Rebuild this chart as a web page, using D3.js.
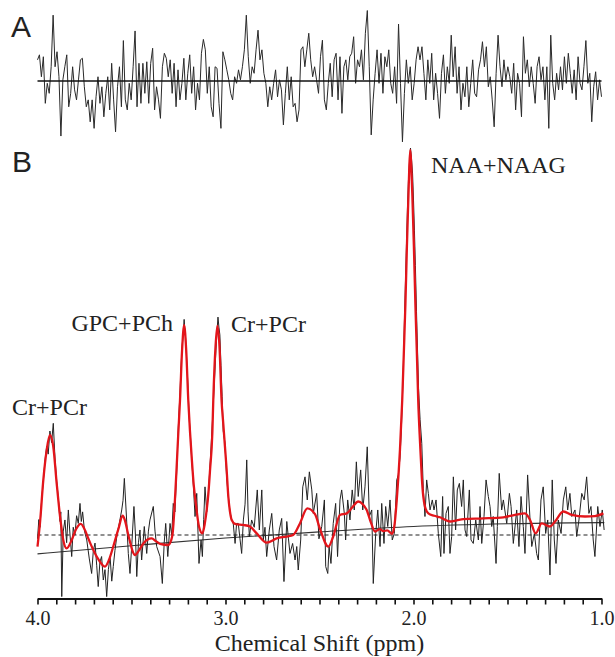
<!DOCTYPE html>
<html>
<head>
<meta charset="utf-8">
<script src="https://cdn.jsdelivr.net/npm/d3@7"></script>
<style>
  html, body { margin: 0; padding: 0; background: #fff; }
  svg { display: block; }
</style>
</head>
<body>
<div id="chart"></div>
<script>
// panel A: residual, sampled evenly from 4.0 to 1.0 ppm (a.u.)
const residual = [
  5.5, 6.8, 1.1, 6.3, -5.8, -0.6, -3.2, 3.7, 17.1, 3.7, 7.6, 1.1, -14.3, 0.3, 3.7, 6.8, -6.7, -3.2, 3.7, -2.3,
  -4.9, 0.3, 5.5, 5.9, -1.5, -6.7, -4.9, -10.6, -4.9, -12.3, -4.1, 1.1, -5.8, -1.5, -9.3, -3.2, 1.1, -7.5, 4.6, -4.9,
  -13.2, -1.5, 3.7, -6.7, 10.5, -4.9, -7.5, -0.6, -4.9, 3.7, 13.0, -6.7, 4.6, -5.8, 4.6, -3.2, 5.0, -5.8, 4.6, 8.5,
  -7.5, -1.5, -4.9, -9.7, 3.7, 7.2, 5.9, 1.1, 5.5, -3.2, 4.6, -6.7, 2.9, -4.9, -0.6, 5.9, -4.9, 2.0, 6.8, -3.2,
  3.7, -7.5, -0.6, -4.9, 7.2, 10.8, 8.1, -3.2, 3.7, -6.7, -9.3, 3.7, 3.3, -5.8, -12.3, 7.6, 5.5, 2.9, 0.3, -3.2,
  -4.9, 1.1, -0.6, 2.9, 0.3, 3.7, 8.1, 17.1, 6.3, -0.6, 3.7, 2.0, 8.1, 13.2, 5.5, 8.1, 2.0, -0.6, -6.7, -1.5,
  -4.9, -0.6, 2.9, -4.1, 0.3, -2.3, -11.4, -3.2, 3.7, -4.9, 1.1, -6.7, -5.8, -10.6, -7.5, 8.1, 8.9, 3.7, 8.1, 12.4,
  5.5, 1.1, 3.7, 0.3, -3.2, 6.3, 10.6, -4.9, -7.5, -0.6, 4.6, -4.1, 5.5, 7.2, -4.9, 6.3, -8.4, 3.7, 5.5, 0.3,
  6.3, 7.2, 11.5, -0.6, 5.5, 3.7, 8.1, 0.3, 12.4, 18.3, 3.7, -14.0, -4.9, 2.0, 8.1, -0.6, 7.2, -3.2, 6.3, 3.7,
  8.1, -0.6, -3.2, 3.7, -5.8, 14.8, -0.6, -15.8, -3.2, 5.5, -0.6, 3.7, -4.9, -0.6, 5.5, 8.9, 5.5, 8.9, 2.0, -4.9,
  5.5, -0.6, 7.2, -4.9, 2.0, -3.2, -9.7, 2.0, 6.8, -3.2, 3.7, -0.6, 11.9, 1.1, 8.9, -3.2, 3.7, -7.5, -0.6, -4.1,
  3.7, -6.7, -0.6, 5.5, -3.2, -4.1, 2.9, 5.5, 10.2, 3.7, 8.9, -1.5, 1.1, -4.9, -11.9, 2.0, 11.9, 3.7, -1.5, 5.5,
  0.3, 3.7, 1.1, -3.2, 4.6, -7.5, 2.0, -0.6, -9.3, 11.5, 2.0, 5.5, -1.5, 3.7, -0.6, -5.8, 3.7, 6.3, 0.3, 3.7,
  -4.9, 3.7, -12.3, 11.9, -0.6, -4.9, 2.0, -2.3, 3.7, -2.3, 6.3, -0.6, 7.2, 2.0, -3.2, 2.9, -4.9, 6.3, -0.6, -2.3,
  3.7, 10.5, -0.6, 2.0, -10.6, -1.5, 2.4, -4.9, 0.3, -4.1
];

// panel B: measured spectrum (black)
const specPpm = [
  4.000, 3.993, 3.987, 3.978, 3.969, 3.960, 3.951, 3.943, 3.934, 3.925, 3.916, 3.907, 3.898, 3.889, 3.880, 3.876, 3.871, 3.863, 3.854, 3.845,
  3.836, 3.827, 3.818, 3.810, 3.801, 3.792, 3.783, 3.774, 3.767, 3.760, 3.750, 3.738, 3.725, 3.712, 3.703, 3.694, 3.685, 3.677, 3.668, 3.659,
  3.650, 3.641, 3.632, 3.623, 3.614, 3.605, 3.597, 3.588, 3.576, 3.565, 3.552, 3.545, 3.538, 3.526, 3.517, 3.508, 3.499, 3.487, 3.479, 3.472,
  3.463, 3.455, 3.446, 3.432, 3.419, 3.410, 3.402, 3.384, 3.375, 3.366, 3.348, 3.336, 3.326, 3.318, 3.307, 3.295, 3.286, 3.278, 3.269, 3.260,
  3.251, 3.242, 3.236, 3.231, 3.225, 3.220, 3.216, 3.212, 3.205, 3.199, 3.194, 3.187, 3.180, 3.171, 3.162, 3.153, 3.141, 3.130, 3.123, 3.116,
  3.109, 3.100, 3.091, 3.080, 3.069, 3.059, 3.051, 3.045, 3.040, 3.035, 3.030, 3.024, 3.018, 3.012, 3.003, 2.994, 2.985, 2.976, 2.967, 2.959,
  2.949, 2.941, 2.932, 2.923, 2.914, 2.905, 2.896, 2.887, 2.880, 2.873, 2.861, 2.847, 2.831, 2.820, 2.807, 2.799, 2.790, 2.781, 2.767, 2.754,
  2.742, 2.728, 2.714, 2.701, 2.689, 2.674, 2.665, 2.657, 2.643, 2.630, 2.621, 2.613, 2.600, 2.589, 2.577, 2.565, 2.554, 2.541, 2.533, 2.515,
  2.503, 2.488, 2.474, 2.467, 2.456, 2.449, 2.439, 2.427, 2.414, 2.404, 2.391, 2.382, 2.368, 2.361, 2.350, 2.338, 2.326, 2.315, 2.304, 2.294,
  2.281, 2.270, 2.258, 2.246, 2.235, 2.222, 2.214, 2.201, 2.190, 2.178, 2.169, 2.157, 2.148, 2.137, 2.125, 2.113, 2.102, 2.089, 2.081, 2.072,
  2.065, 2.060, 2.054, 2.048, 2.042, 2.037, 2.032, 2.027, 2.021, 2.016, 2.011, 2.005, 2.000, 1.995, 1.990, 1.984, 1.978, 1.973, 1.965, 1.956,
  1.948, 1.939, 1.930, 1.921, 1.912, 1.900, 1.891, 1.880, 1.868, 1.855, 1.845, 1.838, 1.827, 1.815, 1.806, 1.797, 1.788, 1.776, 1.767, 1.756,
  1.744, 1.735, 1.726, 1.717, 1.703, 1.694, 1.682, 1.669, 1.655, 1.646, 1.637, 1.625, 1.614, 1.602, 1.593, 1.584, 1.576, 1.561, 1.554, 1.544,
  1.531, 1.522, 1.504, 1.490, 1.481, 1.469, 1.451, 1.439, 1.428, 1.416, 1.407, 1.393, 1.380, 1.371, 1.357, 1.345, 1.336, 1.322, 1.310, 1.297,
  1.286, 1.274, 1.262, 1.251, 1.242, 1.230, 1.215, 1.203, 1.190, 1.180, 1.168, 1.158, 1.141, 1.132, 1.120, 1.105, 1.092, 1.079, 1.067, 1.056,
  1.044, 1.035, 1.020, 1.008, 0.996, 0.986
];
const specVal = [
  -1.0, 4.0, 2.0, 9.0, 14.0, 19.5, 23.0, 21.0, 27.0, 24.0, 29.0, 20.0, 14.0, 9.5, 3.5, 6.0, -16.0, 1.0, 3.9, -2.0,
  6.5, 0.0, -5.6, 2.0, 0.0, 5.0, 3.0, 8.2, 3.5, 6.0, 1.0, -1.3, -6.0, -10.0, -4.0, -2.1, -8.0, -13.4, -7.0, -5.6,
  -11.7, -9.0, -16.0, -9.0, -5.6, -12.0, -8.2, -4.0, 0.4, 3.0, 6.5, 9.0, 14.7, 3.9, -4.8, -10.0, -3.0, 7.4, 0.0, -10.8,
  -2.0, 1.3, -6.5, 2.2, -4.8, 1.0, 3.9, 7.4, 1.0, -3.0, -5.6, -12.6, -2.0, 3.0, -5.6, 3.0, 0.0, 8.2, 6.0, 16.0,
  28.0, 37.0, 44.0, 49.0, 52.0, 56.0, 53.0, 51.0, 44.0, 38.0, 31.0, 26.0, 20.0, 13.0, 4.8, 10.8, -7.4, -1.3, -5.6, 4.0,
  12.5, 6.0, 11.0, 20.0, 30.0, 40.0, 48.0, 53.0, 56.6, 54.0, 52.0, 44.0, 36.0, 27.0, 24.0, 15.0, 10.0, 6.0, 4.0, 3.1,
  -2.2, 3.0, 3.0, -1.0, -4.8, 3.9, 8.0, 19.5, 6.0, -0.4, 3.9, 2.0, 11.7, 1.3, 11.7, -1.3, 2.0, -5.6, 1.3, 5.6,
  -3.0, -6.5, 1.3, 4.3, -12.1, 3.5, -1.0, -4.8, -2.2, -6.5, -3.0, -9.1, -1.3, 12.5, 15.1, 9.1, 16.4, 11.7, 5.6, 10.8,
  -1.0, 2.2, 9.1, -8.2, -10.0, -3.0, -7.4, 3.0, 8.2, -5.6, 9.1, 11.7, 5.6, -1.3, 9.1, 3.9, 11.7, 6.5, 19.0, 10.0,
  16.9, 6.5, 12.5, 22.9, 4.8, 6.5, -12.6, 0.4, 6.5, -3.0, 8.2, -2.2, 7.4, 2.2, 9.1, -1.3, 0.4, 14.3, 15.6, 20.0,
  27.0, 34.0, 44.0, 56.0, 67.0, 76.0, 85.0, 92.0, 97.0, 100.5, 98.0, 94.0, 87.0, 79.0, 70.0, 58.0, 47.0, 38.0, 30.0, 23.8,
  12.0, 4.8, 14.3, 10.8, 6.5, 9.1, 6.5, 9.1, 0.4, -5.6, 10.0, -4.8, 5.6, 7.4, -4.8, -0.4, 15.1, 1.3, 11.7, 13.4,
  7.4, 14.3, 1.3, -0.4, 11.7, -1.3, -2.2, 3.9, -1.3, 7.4, -2.2, 4.8, 14.3, 10.0, 7.4, 2.2, 4.8, -7.4, 2.2, 16.0,
  6.5, 9.1, 3.0, 10.8, 7.4, -2.2, 6.5, -3.0, 10.0, 2.2, -4.8, 15.6, 3.9, -3.0, 0.4, -4.8, -6.5, 9.1, 12.5, 0.4,
  3.9, -10.4, 14.3, -1.3, -7.4, 3.9, 0.4, 9.1, 12.5, 6.5, 10.8, 4.8, 6.5, -0.4, 3.9, 10.8, 9.1, 15.1, 5.6, 7.4,
  -1.3, -5.6, 7.4, 2.2, 6.5, 1.3
];

// panel B: model fit (red)
const fitPpm = [
  4.000, 3.987, 3.969, 3.951, 3.934, 3.916, 3.898, 3.880, 3.863, 3.845, 3.818, 3.795, 3.770, 3.745, 3.730, 3.685, 3.641, 3.620, 3.597, 3.570,
  3.547, 3.535, 3.517, 3.481, 3.460, 3.437, 3.393, 3.370, 3.348, 3.304, 3.290, 3.281, 3.269, 3.260, 3.251, 3.242, 3.231, 3.220, 3.209, 3.198,
  3.189, 3.180, 3.169, 3.158, 3.141, 3.123, 3.110, 3.100, 3.091, 3.082, 3.070, 3.065, 3.053, 3.043, 3.032, 3.021, 3.012, 3.003, 2.994, 2.985,
  2.976, 2.967, 2.949, 2.905, 2.870, 2.834, 2.781, 2.728, 2.674, 2.640, 2.604, 2.565, 2.524, 2.497, 2.453, 2.427, 2.391, 2.355, 2.320, 2.294,
  2.270, 2.249, 2.225, 2.205, 2.180, 2.160, 2.140, 2.113, 2.100, 2.089, 2.072, 2.060, 2.051, 2.043, 2.035, 2.027, 2.022, 2.017, 2.012, 2.006,
  1.998, 1.990, 1.982, 1.975, 1.965, 1.956, 1.948, 1.939, 1.921, 1.890, 1.859, 1.806, 1.770, 1.735, 1.629, 1.522, 1.460, 1.407, 1.380, 1.350,
  1.318, 1.274, 1.247, 1.203, 1.158, 1.088, 1.035, 0.990
];
const fitVal = [
  -3.0, 3.0, 14.3, 22.1, 26.0, 22.9, 13.4, 4.8, -1.3, -3.5, -1.3, 1.5, 2.9, 1.0, -0.9, -5.6, -8.2, -6.5, -3.0, 1.5,
  5.0, 3.8, 0.0, -5.2, -4.0, -2.2, -0.9, -1.6, -2.3, -2.6, -1.5, 0.5, 9.1, 17.5, 26.5, 35.0, 48.0, 54.5, 48.0, 35.0,
  27.0, 20.3, 13.0, 8.2, 2.2, 0.4, 3.0, 6.5, 10.8, 17.0, 26.5, 35.0, 49.0, 54.3, 49.0, 35.0, 29.0, 23.0, 17.0, 10.0,
  6.0, 3.9, 2.9, 2.6, 2.2, 0.4, -2.0, -0.9, -0.4, 0.0, 3.0, 6.9, 5.4, 1.5, -3.0, -0.4, 5.2, 5.6, 7.5, 8.7,
  8.0, 6.5, 3.0, 0.9, 1.5, 1.0, 1.2, 0.3, 3.0, 9.1, 22.1, 35.0, 48.0, 60.0, 75.0, 88.0, 96.0, 100.0, 96.0, 88.0,
  75.0, 60.0, 47.0, 35.0, 23.8, 15.1, 10.0, 7.4, 5.6, 5.0, 4.6, 3.5, 3.8, 4.1, 4.3, 4.6, 5.2, 5.6, 3.9, 0.4,
  3.0, 2.2, 3.5, 6.1, 5.2, 4.8, 4.9, 5.6
];

// panel B: fitted baseline (solid) and zero level (dashed)
const basePpm = [4.0, 3.5, 3.0, 2.5, 2.0, 1.5, 1.0, 0.985];
const baseVal = [-4.9, -2.8, -0.8, 0.8, 2.2, 2.9, 3.2, 3.2];

const peakNames = ["Cr+PCr", "GPC+PCh", "Cr+PCr", "NAA+NAAG"];
const tickValues = [4.0, 3.0, 2.0, 1.0];
const tickLabels = ["4.0", "3.0", "2.0", "1.0"];

const W = 615, H = 657;
const serif = '"Times New Roman", "Liberation Serif", serif';
const sans = 'Arial, "Liberation Sans", sans-serif';

const svg = d3.select("#chart").append("svg")
  .attr("width", W)
  .attr("height", H)
  .style("background", "#fff");

const x = d3.scaleLinear().domain([4.0, 1.0]).range([37.5, 601.5]);
const yA = d3.scaleLinear().domain([-18, 18]).range([150.3, 11.7]);
const yB = d3.scaleLinear().domain([-16.5, 100]).range([598.5, 150]);

// --- panel A
const idx = d3.scaleLinear().domain([0, residual.length - 1]).range([4.0, 1.0]);
const lineA = d3.line()
  .x((d, i) => x(idx(i)))
  .y(d => yA(d));

svg.append("path")
  .datum(residual)
  .attr("d", lineA)
  .attr("fill", "none")
  .attr("stroke", "#2a2a2a")
  .attr("stroke-width", 1)
  .attr("stroke-linejoin", "round");

svg.append("line")
  .attr("x1", x(4.0)).attr("x2", x(1.0))
  .attr("y1", yA(0)).attr("y2", yA(0))
  .attr("stroke", "#111")
  .attr("stroke-width", 1.6);

svg.append("text")
  .attr("x", 11).attr("y", 37)
  .attr("font-family", sans)
  .attr("font-size", 30)
  .attr("fill", "#222")
  .text("A");

// --- panel B
svg.append("text")
  .attr("x", 12).attr("y", 172)
  .attr("font-family", sans)
  .attr("font-size", 30)
  .attr("fill", "#222")
  .text("B");

// zero level
svg.append("line")
  .attr("x1", x(4.0)).attr("x2", x(0.99))
  .attr("y1", yB(0)).attr("y2", yB(0))
  .attr("stroke", "#222")
  .attr("stroke-width", 1.2)
  .attr("stroke-dasharray", "4,3");

// baseline
const baseLine = d3.line()
  .x((d, i) => x(basePpm[i]))
  .y(d => yB(d))
  .curve(d3.curveMonotoneX);
svg.append("path")
  .datum(baseVal)
  .attr("d", baseLine)
  .attr("fill", "none")
  .attr("stroke", "#333")
  .attr("stroke-width", 1.1);

// measured spectrum
const specLine = d3.line()
  .x((d, i) => x(specPpm[i]))
  .y(d => yB(d));
svg.append("path")
  .datum(specVal)
  .attr("d", specLine)
  .attr("fill", "none")
  .attr("stroke", "#222")
  .attr("stroke-width", 1)
  .attr("stroke-linejoin", "round");

// fit
const fitLine = d3.line()
  .x((d, i) => x(fitPpm[i]))
  .y(d => yB(d))
  .curve(d3.curveMonotoneX);
svg.append("path")
  .datum(fitVal)
  .attr("d", fitLine)
  .attr("fill", "none")
  .attr("stroke", "#e3151b")
  .attr("stroke-width", 2.3);

// peak labels
const labelPos = [
  {x: 12, y: 415, anchor: "start"},
  {x: 173, y: 331, anchor: "end"},
  {x: 231, y: 332, anchor: "start"},
  {x: 431, y: 173, anchor: "start"}
];
svg.selectAll("text.peak")
  .data(peakNames)
  .join("text")
  .attr("class", "peak")
  .attr("x", (d, i) => labelPos[i].x)
  .attr("y", (d, i) => labelPos[i].y)
  .attr("text-anchor", (d, i) => labelPos[i].anchor)
  .attr("font-family", serif)
  .attr("font-size", 24)
  .attr("fill", "#222")
  .text(d => d);

// x axis
const minorTicks = d3.range(10, 41).map(d => d / 10);
const xAxis = svg.append("g")
  .attr("transform", `translate(0,${yB.range()[0]})`)
  .call(d3.axisBottom(x)
    .tickValues(minorTicks)
    .tickSize(6)
    .tickSizeOuter(0)
    .tickPadding(6)
    .tickFormat(d => {
      const k = tickValues.findIndex(t => Math.abs(t - d) < 1e-6);
      return k >= 0 ? tickLabels[k] : "";
    }));
xAxis.select(".domain").attr("stroke", "#111").attr("stroke-width", 1.8);
xAxis.selectAll(".tick line").attr("stroke", "#111").attr("stroke-width", 1.6);
xAxis.selectAll(".tick text")
  .attr("font-family", serif)
  .attr("font-size", 20)
  .attr("fill", "#222");

svg.append("text")
  .attr("x", (x(4.0) + x(1.0)) / 2)
  .attr("y", 651)
  .attr("text-anchor", "middle")
  .attr("font-family", serif)
  .attr("font-size", 24)
  .attr("fill", "#222")
  .text("Chemical Shift (ppm)");
</script>
</body>
</html>
